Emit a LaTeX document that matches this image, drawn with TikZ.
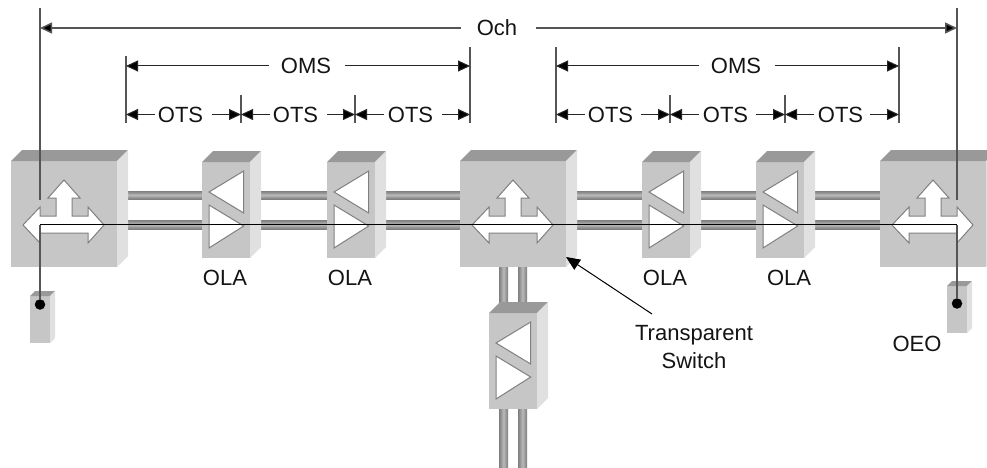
\documentclass[tikz,border=0pt]{standalone}
\usepackage{fontspec}
\setmainfont{Liberation Sans}
\usetikzlibrary{arrows.meta}
\pgfdeclarelayer{bg}
\pgfsetlayers{bg,main}
\definecolor{frontc}{HTML}{C6C6C6}
\definecolor{topc}{HTML}{999999}
\definecolor{sidec}{HTML}{E0E0E0}
\definecolor{edgec}{HTML}{808080}
\definecolor{linec}{HTML}{555555}
\pgfdeclareverticalshading{pipeshade}{100bp}{
 color(0bp)=(black!50); color(25bp)=(black!50); color(35bp)=(black!42);
 color(50bp)=(black!27); color(65bp)=(black!42); color(75bp)=(black!50); color(100bp)=(black!50)}
\tikzset{
 front/.style={fill=frontc,inner sep=0pt,outer sep=0pt,anchor=north west},
 topface/.style={fill=topc},
 sideface/.style={fill=sidec},
 glyph/.style={fill=white,draw=edgec,line width=1pt,line join=miter},
 pipeh/.style={shading=pipeshade},
 pipev/.style={shading=pipeshade,shading angle=90},
 lab/.style={inner sep=0pt,font=\fontsize{22}{26}\selectfont,text=black!92},
 och/.style={draw=linec,line width=1.5pt},
 dimline/.style={draw=black!85,line width=1pt},
 tickline/.style={draw=linec,line width=1.2pt},
 head/.style={-{Triangle[length=12pt,width=11pt,fill=black]}},
 dot/.style={circle,fill=black,inner sep=0pt,minimum size=10.5pt},
}
% name, x, y, w, h, depth
\newcommand{\devicebox}[6]{%
 \node[front,minimum width=#4pt,minimum height=#5pt] (#1) at (#2,#3) {};
 \fill[topface] (#1.north west) -- ++(#6,-#6) -- ++(#4,0) -- (#1.north east) -- cycle;
 \fill[sideface] (#1.north east) -- ++(#6,-#6) -- ++(0,#5) -- (#1.south east) -- cycle;
}
\newcommand{\crossglyph}[1]{%
 \begin{scope}[shift={(#1.north west)}]
 \path[glyph] (12,64) -- (29,46) -- (29,55) -- (45,55) -- (45,37) -- (37,37) -- (53,19) -- (69,37) -- (61,37) -- (61,55) -- (77,55) -- (77,46) -- (93,64) -- (77,82) -- (77,72) -- (29,72) -- (29,82) -- cycle;
 \end{scope}
}
\newcommand{\triglyph}[1]{%
 \begin{scope}[shift={(#1.north west)}]
 \path[glyph] (7,30) -- (41.7,9) -- (41.7,51) -- cycle;
 \path[glyph] (7,43) -- (7,86) -- (41.7,64) -- cycle;
 \end{scope}
}
% name, xL, gapL, label, cx, gapR, xR, y, style
\newcommand{\dimrow}[9]{%
 \coordinate (#1L) at (#2,#8); \coordinate (#1a) at (#3,#8);
 \coordinate (#1b) at (#6,#8); \coordinate (#1R) at (#7,#8);
 \node[lab] (#1) at (#5,#8) {#4};
 \draw[#9,head] (#1a) -- (#1L);
 \draw[#9,head] (#1b) -- (#1R);
}
% pipes between two named fronts
\newcommand{\pipepair}[2]{%
 \begin{pgfonlayer}{bg}
 \path[pipeh] (#1.east |- 0,191) rectangle (#2.west |- 0,199);
 \path[pipeh] (#1.east |- 0,220) rectangle (#2.west |- 0,229);
 \end{pgfonlayer}
}
\begin{document}
\begin{tikzpicture}[x=1pt,y=-1pt]
\useasboundingbox (0,0) rectangle (987,468);
\begin{pgfonlayer}{bg}
\fill[white] (0,0) rectangle (987,468);
\end{pgfonlayer}

\devicebox{swa}{11}{161}{106}{106}{11}
\devicebox{olaa}{202}{162}{48}{96}{11}
\devicebox{olab}{327}{162}{48}{96}{11}
\devicebox{swb}{460}{161}{106}{106}{11}
\devicebox{olac}{642}{162}{48}{96}{11}
\devicebox{olad}{756}{162}{48}{96}{11}
\devicebox{swc}{880}{161}{106}{106}{11}
\devicebox{olav}{489}{313}{48}{96}{11}
\devicebox{oeol}{30}{296}{20}{47}{5}
\devicebox{oeor}{947}{286}{20}{47}{5}

\pipepair{swa}{olaa}
\pipepair{olaa}{olab}
\pipepair{olab}{swb}
\pipepair{swb}{olac}
\pipepair{olac}{olad}
\pipepair{olad}{swc}

\coordinate (pipeend) at (513,468);
\begin{pgfonlayer}{bg}
 \path[pipev] (499,0 |- swb.south) rectangle (508,0 |- olav.north);
 \path[pipev] (518,0 |- swb.south) rectangle (527,0 |- olav.north);
 \path[pipev] (499,0 |- olav.south) rectangle (508,0 |- pipeend);
 \path[pipev] (518,0 |- olav.south) rectangle (527,0 |- pipeend);
\end{pgfonlayer}

\crossglyph{swa}\crossglyph{swb}\crossglyph{swc}
\triglyph{olaa}\triglyph{olab}\triglyph{olac}\triglyph{olad}\triglyph{olav}

% channel trace
\node[dot] (dotl) at (40,304.5) {};
\node[dot] (dotr) at (957,303.5) {};
\coordinate (cornl) at (40,224.5);
\coordinate (cornr) at (957,224.5);
\coordinate (ochtl) at (40,8);
\coordinate (ochtr) at (957,8);
\coordinate (ochbl) at (40,200);
\coordinate (ochbr) at (957,200);
\draw[och] (ochtl) -- (ochbl);
\draw[och] (ochtr) -- (ochbr);
\draw[och] (dotl) -- (cornl);
\draw[och] (dotr) -- (cornr);
\draw[draw=black,line width=1pt] (cornl) -- (cornr);

% dimension ticks
\draw[tickline] (126,56) -- (126,123);
\draw[tickline] (470,47) -- (470,123);
\draw[tickline] (556,47) -- (556,123);
\draw[tickline] (899,47) -- (899,123);
\draw[tickline] (241,95) -- (241,123);
\draw[tickline] (355,95) -- (355,123);
\draw[tickline] (670,95) -- (670,123);
\draw[tickline] (785,95) -- (785,123);

\dimrow{dch}{40}{461}{Och}{497}{536}{957}{28}{och}
\dimrow{oms1}{126}{269}{OMS}{306}{345}{470}{66}{dimline}
\dimrow{oms2}{556}{699}{OMS}{736}{775}{899}{66}{dimline}
\dimrow{otsa}{126}{155}{OTS}{180.5}{212}{241}{114.5}{dimline}
\dimrow{otsb}{241}{270}{OTS}{295.5}{327}{355}{114.5}{dimline}
\dimrow{otsc}{355}{384}{OTS}{410.5}{442}{470}{114.5}{dimline}
\dimrow{otsd}{556}{585}{OTS}{610.5}{641}{670}{114.5}{dimline}
\dimrow{otse}{670}{699}{OTS}{725.5}{756}{785}{114.5}{dimline}
\dimrow{otsf}{785}{814}{OTS}{840.5}{870}{899}{114.5}{dimline}

% labels
\node[lab] (lola1) at (225,278) {OLA};
\node[lab] (lola2) at (350,278) {OLA};
\node[lab] (lola3) at (665,278) {OLA};
\node[lab] (lola4) at (789,278) {OLA};
\node[lab] (loeo) at (917,344) {OEO};
\node[lab] (ts1) at (694,335) {Transparent};
\node[lab] (ts2) at (694,361) {Switch};

\coordinate (tstail) at (652,314);
\coordinate (tstip) at (566,257);
\draw[draw=black,line width=1pt,-{Triangle[length=14pt,width=12pt,fill=black]}] (tstail) -- (tstip);
\end{tikzpicture}
\end{document}
